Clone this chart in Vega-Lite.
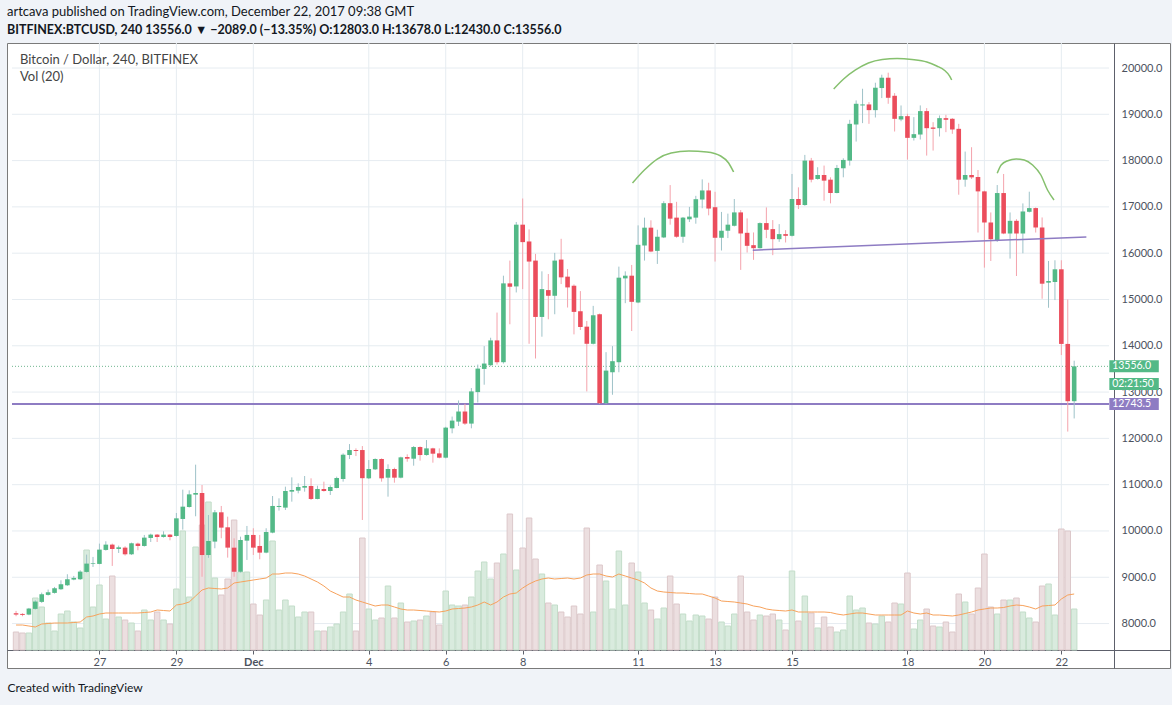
{
  "$schema": "https://vega.github.io/schema/vega-lite/v6.json",
  "width": 1163,
  "height": 625,
  "autosize": {"type": "none"},
  "padding": {"left": 7, "top": 43, "right": 2, "bottom": 37},
  "background": "#f0f3f8",
  "view": {"fill": "white", "stroke": "#7a7a7a"},
  "config": {"font": "Lato"},
  "title": {
    "text": "artcava published on TradingView.com, December 22, 2017 09:38 GMT",
    "subtitle": "BITFINEX:BTCUSD, 240 13556.0 ▼ −2089.0 (−13.35%) O:12803.0 H:13678.0 L:12430.0 C:13556.0",
    "anchor": "start",
    "frame": "group",
    "fontSize": 13,
    "fontWeight": "normal",
    "color": "#131722",
    "subtitleFontSize": 12.5,
    "subtitleFontWeight": "bold",
    "subtitleColor": "#131722",
    "subtitlePadding": 5,
    "offset": 6
  },
  "datasets": {
    "candles": [
      {"time":"2017-11-24T20:00:00Z","open":8223,"high":8273,"low":8158,"close":8194,"volume":1800,"ma":2500},
      {"time":"2017-11-25T00:00:00Z","open":8208,"high":8223,"low":8158,"close":8187,"volume":1700,"ma":2500},
      {"time":"2017-11-25T04:00:00Z","open":8194,"high":8338,"low":8180,"close":8324,"volume":1700,"ma":2400},
      {"time":"2017-11-25T08:00:00Z","open":8317,"high":8504,"low":8302,"close":8475,"volume":5200,"ma":2300},
      {"time":"2017-11-25T12:00:00Z","open":8468,"high":8669,"low":8446,"close":8633,"volume":4300,"ma":2600},
      {"time":"2017-11-25T16:00:00Z","open":8619,"high":8734,"low":8604,"close":8676,"volume":2700,"ma":2650},
      {"time":"2017-11-25T20:00:00Z","open":8662,"high":8791,"low":8647,"close":8763,"volume":1900,"ma":2700},
      {"time":"2017-11-26T00:00:00Z","open":8741,"high":8935,"low":8727,"close":8849,"volume":3600,"ma":2700},
      {"time":"2017-11-26T04:00:00Z","open":8827,"high":9065,"low":8813,"close":8957,"volume":3900,"ma":2700},
      {"time":"2017-11-26T08:00:00Z","open":8950,"high":9029,"low":8935,"close":8986,"volume":2800,"ma":2750},
      {"time":"2017-11-26T12:00:00Z","open":8957,"high":9151,"low":8942,"close":9122,"volume":2200,"ma":2800},
      {"time":"2017-11-26T16:00:00Z","open":9115,"high":9489,"low":9101,"close":9295,"volume":10000,"ma":3300},
      {"time":"2017-11-26T20:00:00Z","open":9288,"high":9439,"low":9223,"close":9302,"volume":4300,"ma":3400},
      {"time":"2017-11-27T00:00:00Z","open":9288,"high":9727,"low":9281,"close":9597,"volume":6500,"ma":3600},
      {"time":"2017-11-27T04:00:00Z","open":9590,"high":9777,"low":9575,"close":9705,"volume":3100,"ma":3700},
      {"time":"2017-11-27T08:00:00Z","open":9705,"high":9727,"low":9245,"close":9611,"volume":7400,"ma":3700},
      {"time":"2017-11-27T12:00:00Z","open":9611,"high":9683,"low":9525,"close":9647,"volume":3300,"ma":3700},
      {"time":"2017-11-27T16:00:00Z","open":9640,"high":9669,"low":9468,"close":9496,"volume":3000,"ma":3700},
      {"time":"2017-11-27T20:00:00Z","open":9496,"high":9748,"low":9482,"close":9734,"volume":2700,"ma":3700},
      {"time":"2017-11-28T00:00:00Z","open":9727,"high":9748,"low":9583,"close":9676,"volume":1900,"ma":3700},
      {"time":"2017-11-28T04:00:00Z","open":9676,"high":9914,"low":9662,"close":9856,"volume":4000,"ma":3750},
      {"time":"2017-11-28T08:00:00Z","open":9849,"high":9942,"low":9762,"close":9921,"volume":3000,"ma":3800},
      {"time":"2017-11-28T12:00:00Z","open":9921,"high":9935,"low":9762,"close":9870,"volume":3800,"ma":4000},
      {"time":"2017-11-28T16:00:00Z","open":9870,"high":9993,"low":9856,"close":9921,"volume":3000,"ma":3950},
      {"time":"2017-11-28T20:00:00Z","open":9921,"high":9935,"low":9798,"close":9870,"volume":2600,"ma":3900},
      {"time":"2017-11-29T00:00:00Z","open":9892,"high":10388,"low":9878,"close":10273,"volume":6100,"ma":4500},
      {"time":"2017-11-29T04:00:00Z","open":10259,"high":10892,"low":10029,"close":10525,"volume":11900,"ma":4600},
      {"time":"2017-11-29T08:00:00Z","open":10518,"high":10878,"low":10504,"close":10791,"volume":5300,"ma":4800},
      {"time":"2017-11-29T12:00:00Z","open":10784,"high":11432,"low":10317,"close":10820,"volume":10300,"ma":5400},
      {"time":"2017-11-29T16:00:00Z","open":10820,"high":10993,"low":9011,"close":9480,"volume":12500,"ma":6000},
      {"time":"2017-11-29T20:00:00Z","open":9480,"high":10345,"low":9420,"close":9784,"volume":14800,"ma":6200},
      {"time":"2017-11-30T00:00:00Z","open":9770,"high":10453,"low":9626,"close":10403,"volume":7200,"ma":6150},
      {"time":"2017-11-30T04:00:00Z","open":10403,"high":10540,"low":9842,"close":10072,"volume":5500,"ma":6100},
      {"time":"2017-11-30T08:00:00Z","open":10079,"high":10309,"low":9424,"close":9640,"volume":7100,"ma":6200},
      {"time":"2017-11-30T12:00:00Z","open":9639,"high":9841,"low":9011,"close":9119,"volume":13000,"ma":6700},
      {"time":"2017-11-30T16:00:00Z","open":9119,"high":9877,"low":9100,"close":9805,"volume":7800,"ma":6800},
      {"time":"2017-11-30T20:00:00Z","open":9791,"high":10108,"low":9374,"close":9914,"volume":7800,"ma":6900},
      {"time":"2017-12-01T00:00:00Z","open":9914,"high":10058,"low":9482,"close":9640,"volume":4600,"ma":7000},
      {"time":"2017-12-01T04:00:00Z","open":9676,"high":9914,"low":9388,"close":9532,"volume":3500,"ma":7100},
      {"time":"2017-12-01T08:00:00Z","open":9532,"high":10058,"low":9518,"close":9978,"volume":5000,"ma":7200},
      {"time":"2017-12-01T12:00:00Z","open":9964,"high":10755,"low":9950,"close":10540,"volume":10900,"ma":7600},
      {"time":"2017-12-01T16:00:00Z","open":10518,"high":10705,"low":10439,"close":10540,"volume":4000,"ma":7600},
      {"time":"2017-12-01T20:00:00Z","open":10504,"high":10957,"low":10453,"close":10863,"volume":5000,"ma":7700},
      {"time":"2017-12-02T00:00:00Z","open":10849,"high":11158,"low":10633,"close":10885,"volume":4400,"ma":7700},
      {"time":"2017-12-02T04:00:00Z","open":10871,"high":11029,"low":10813,"close":10950,"volume":3300,"ma":7600},
      {"time":"2017-12-02T08:00:00Z","open":10935,"high":11187,"low":10849,"close":10971,"volume":3800,"ma":7400},
      {"time":"2017-12-02T12:00:00Z","open":10971,"high":11137,"low":10669,"close":10691,"volume":3800,"ma":7100},
      {"time":"2017-12-02T16:00:00Z","open":10691,"high":10978,"low":10683,"close":10906,"volume":1900,"ma":6800},
      {"time":"2017-12-02T20:00:00Z","open":10906,"high":11065,"low":10849,"close":10863,"volume":1900,"ma":6400},
      {"time":"2017-12-03T00:00:00Z","open":10863,"high":10986,"low":10777,"close":10950,"volume":2300,"ma":5900},
      {"time":"2017-12-03T04:00:00Z","open":10928,"high":11173,"low":10921,"close":11144,"volume":2600,"ma":5600},
      {"time":"2017-12-03T08:00:00Z","open":11122,"high":11676,"low":11065,"close":11647,"volume":3800,"ma":5300},
      {"time":"2017-12-03T12:00:00Z","open":11640,"high":11877,"low":11554,"close":11748,"volume":5600,"ma":5300},
      {"time":"2017-12-03T16:00:00Z","open":11748,"high":11784,"low":11618,"close":11727,"volume":1900,"ma":5000},
      {"time":"2017-12-03T20:00:00Z","open":11748,"high":11834,"low":10237,"close":11140,"volume":11200,"ma":4800},
      {"time":"2017-12-04T00:00:00Z","open":11137,"high":11532,"low":11122,"close":11338,"volume":4100,"ma":4600},
      {"time":"2017-12-04T04:00:00Z","open":11331,"high":11568,"low":11317,"close":11554,"volume":3000,"ma":4400},
      {"time":"2017-12-04T08:00:00Z","open":11554,"high":11568,"low":11065,"close":11137,"volume":3200,"ma":4500},
      {"time":"2017-12-04T12:00:00Z","open":11151,"high":11439,"low":10741,"close":11338,"volume":6400,"ma":4500},
      {"time":"2017-12-04T16:00:00Z","open":11338,"high":11367,"low":11043,"close":11151,"volume":3200,"ma":4300},
      {"time":"2017-12-04T20:00:00Z","open":11151,"high":11604,"low":11137,"close":11590,"volume":4700,"ma":4100},
      {"time":"2017-12-05T00:00:00Z","open":11597,"high":11655,"low":11496,"close":11561,"volume":2800,"ma":4000},
      {"time":"2017-12-05T04:00:00Z","open":11561,"high":11834,"low":11410,"close":11813,"volume":2900,"ma":4000},
      {"time":"2017-12-05T08:00:00Z","open":11813,"high":11827,"low":11518,"close":11640,"volume":3000,"ma":3950},
      {"time":"2017-12-05T12:00:00Z","open":11640,"high":11964,"low":11626,"close":11784,"volume":3400,"ma":3900},
      {"time":"2017-12-05T16:00:00Z","open":11784,"high":11798,"low":11475,"close":11669,"volume":3800,"ma":3850},
      {"time":"2017-12-05T20:00:00Z","open":11676,"high":11784,"low":11568,"close":11583,"volume":2500,"ma":3800},
      {"time":"2017-12-06T00:00:00Z","open":11583,"high":12250,"low":11568,"close":12232,"volume":5900,"ma":3900},
      {"time":"2017-12-06T04:00:00Z","open":12217,"high":12471,"low":12109,"close":12384,"volume":4500,"ma":4100},
      {"time":"2017-12-06T08:00:00Z","open":12362,"high":12819,"low":12268,"close":12580,"volume":4400,"ma":4150},
      {"time":"2017-12-06T12:00:00Z","open":12580,"high":12746,"low":12290,"close":12319,"volume":4500,"ma":4200},
      {"time":"2017-12-06T16:00:00Z","open":12319,"high":13087,"low":12217,"close":13014,"volume":5300,"ma":4300},
      {"time":"2017-12-06T20:00:00Z","open":13000,"high":13594,"low":12775,"close":13507,"volume":7900,"ma":4500},
      {"time":"2017-12-07T00:00:00Z","open":13500,"high":13993,"low":13159,"close":13616,"volume":8800,"ma":4800},
      {"time":"2017-12-07T04:00:00Z","open":13580,"high":14174,"low":13558,"close":14116,"volume":7100,"ma":4500},
      {"time":"2017-12-07T08:00:00Z","open":14116,"high":14717,"low":13594,"close":13645,"volume":8700,"ma":4800},
      {"time":"2017-12-07T12:00:00Z","open":13645,"high":15514,"low":13616,"close":15348,"volume":9600,"ma":5300},
      {"time":"2017-12-07T16:00:00Z","open":15348,"high":15840,"low":14464,"close":15275,"volume":13600,"ma":5600},
      {"time":"2017-12-07T20:00:00Z","open":15282,"high":16674,"low":15152,"close":16616,"volume":8000,"ma":5700},
      {"time":"2017-12-08T00:00:00Z","open":16616,"high":17181,"low":15224,"close":16239,"volume":10200,"ma":6200},
      {"time":"2017-12-08T04:00:00Z","open":16253,"high":16514,"low":14043,"close":15819,"volume":13200,"ma":6600},
      {"time":"2017-12-08T08:00:00Z","open":15840,"high":15985,"low":13725,"close":14623,"volume":9100,"ma":6900},
      {"time":"2017-12-08T12:00:00Z","open":14623,"high":15608,"low":14196,"close":15224,"volume":7600,"ma":7100},
      {"time":"2017-12-08T16:00:00Z","open":15203,"high":15550,"low":14572,"close":15080,"volume":4700,"ma":7200},
      {"time":"2017-12-08T20:00:00Z","open":15080,"high":16007,"low":14681,"close":15840,"volume":4500,"ma":7100},
      {"time":"2017-12-09T00:00:00Z","open":15862,"high":16311,"low":15333,"close":15478,"volume":3800,"ma":7150},
      {"time":"2017-12-09T04:00:00Z","open":15493,"high":15659,"low":14826,"close":15261,"volume":3300,"ma":7200},
      {"time":"2017-12-09T08:00:00Z","open":15297,"high":15326,"low":14246,"close":14732,"volume":4400,"ma":7100},
      {"time":"2017-12-09T12:00:00Z","open":14746,"high":15181,"low":14341,"close":14406,"volume":3600,"ma":7200},
      {"time":"2017-12-09T16:00:00Z","open":14413,"high":14536,"low":13014,"close":14043,"volume":12200,"ma":7500},
      {"time":"2017-12-09T20:00:00Z","open":14043,"high":14862,"low":14029,"close":14659,"volume":3800,"ma":7600},
      {"time":"2017-12-10T00:00:00Z","open":14681,"high":14696,"low":12743,"close":12760,"volume":8500,"ma":7600},
      {"time":"2017-12-10T04:00:00Z","open":12760,"high":13862,"low":12744,"close":13464,"volume":6900,"ma":7400},
      {"time":"2017-12-10T08:00:00Z","open":13428,"high":13993,"low":12942,"close":13667,"volume":4100,"ma":7300},
      {"time":"2017-12-10T12:00:00Z","open":13645,"high":15710,"low":13428,"close":15471,"volume":9900,"ma":7600},
      {"time":"2017-12-10T16:00:00Z","open":15456,"high":15608,"low":14920,"close":15514,"volume":4500,"ma":7400},
      {"time":"2017-12-10T20:00:00Z","open":15514,"high":15746,"low":14319,"close":14949,"volume":8700,"ma":7200},
      {"time":"2017-12-11T00:00:00Z","open":14935,"high":16601,"low":14920,"close":16181,"volume":7800,"ma":7000},
      {"time":"2017-12-11T04:00:00Z","open":16166,"high":16768,"low":15840,"close":16551,"volume":4700,"ma":6700},
      {"time":"2017-12-11T08:00:00Z","open":16551,"high":16710,"low":16021,"close":16036,"volume":4000,"ma":6200},
      {"time":"2017-12-11T12:00:00Z","open":16050,"high":16507,"low":15768,"close":16355,"volume":3100,"ma":5900},
      {"time":"2017-12-11T16:00:00Z","open":16340,"high":17123,"low":16326,"close":17080,"volume":4200,"ma":5800},
      {"time":"2017-12-11T20:00:00Z","open":17080,"high":17471,"low":16616,"close":16746,"volume":7400,"ma":5750},
      {"time":"2017-12-12T00:00:00Z","open":16768,"high":17109,"low":16333,"close":16355,"volume":4600,"ma":5700},
      {"time":"2017-12-12T04:00:00Z","open":16355,"high":16782,"low":16224,"close":16768,"volume":3600,"ma":5700},
      {"time":"2017-12-12T08:00:00Z","open":16732,"high":16999,"low":16673,"close":16790,"volume":2900,"ma":5650},
      {"time":"2017-12-12T12:00:00Z","open":16768,"high":17239,"low":16637,"close":17166,"volume":3500,"ma":5600},
      {"time":"2017-12-12T16:00:00Z","open":17159,"high":17594,"low":16970,"close":17355,"volume":3400,"ma":5600},
      {"time":"2017-12-12T20:00:00Z","open":17355,"high":17522,"low":16818,"close":16964,"volume":3100,"ma":5400},
      {"time":"2017-12-13T00:00:00Z","open":16993,"high":17326,"low":15819,"close":16333,"volume":5300,"ma":5200},
      {"time":"2017-12-13T04:00:00Z","open":16333,"high":16891,"low":16058,"close":16485,"volume":2800,"ma":4900},
      {"time":"2017-12-13T08:00:00Z","open":16485,"high":16855,"low":16326,"close":16616,"volume":2400,"ma":4850},
      {"time":"2017-12-13T12:00:00Z","open":16592,"high":17170,"low":16578,"close":16881,"volume":3600,"ma":4800},
      {"time":"2017-12-13T16:00:00Z","open":16881,"high":16931,"low":15639,"close":16426,"volume":7400,"ma":4700},
      {"time":"2017-12-13T20:00:00Z","open":16440,"high":16751,"low":16014,"close":16159,"volume":3800,"ma":4600},
      {"time":"2017-12-14T00:00:00Z","open":16173,"high":16448,"low":15856,"close":16108,"volume":3000,"ma":4400},
      {"time":"2017-12-14T04:00:00Z","open":16108,"high":16664,"low":16101,"close":16650,"volume":3500,"ma":4300},
      {"time":"2017-12-14T08:00:00Z","open":16650,"high":16989,"low":16325,"close":16505,"volume":3400,"ma":4100},
      {"time":"2017-12-14T12:00:00Z","open":16520,"high":16715,"low":15957,"close":16303,"volume":3600,"ma":4000},
      {"time":"2017-12-14T16:00:00Z","open":16303,"high":16628,"low":16245,"close":16412,"volume":3000,"ma":3950},
      {"time":"2017-12-14T20:00:00Z","open":16412,"high":16498,"low":16231,"close":16375,"volume":2000,"ma":3900},
      {"time":"2017-12-15T00:00:00Z","open":16375,"high":17711,"low":16361,"close":17170,"volume":7900,"ma":4000},
      {"time":"2017-12-15T04:00:00Z","open":17170,"high":17422,"low":16953,"close":17040,"volume":2900,"ma":3800},
      {"time":"2017-12-15T08:00:00Z","open":17040,"high":18123,"low":17025,"close":18000,"volume":5400,"ma":3800},
      {"time":"2017-12-15T12:00:00Z","open":18000,"high":18058,"low":17530,"close":17588,"volume":3700,"ma":3800},
      {"time":"2017-12-15T16:00:00Z","open":17603,"high":17856,"low":17588,"close":17689,"volume":2200,"ma":3800},
      {"time":"2017-12-15T20:00:00Z","open":17689,"high":17892,"low":17134,"close":17567,"volume":3300,"ma":3800},
      {"time":"2017-12-16T00:00:00Z","open":17588,"high":17639,"low":17076,"close":17300,"volume":2300,"ma":3750},
      {"time":"2017-12-16T04:00:00Z","open":17300,"high":17906,"low":17292,"close":17841,"volume":1800,"ma":3600},
      {"time":"2017-12-16T08:00:00Z","open":17834,"high":18050,"low":17639,"close":18014,"volume":2000,"ma":3500},
      {"time":"2017-12-16T12:00:00Z","open":18000,"high":18881,"low":17892,"close":18794,"volume":5400,"ma":3600},
      {"time":"2017-12-16T16:00:00Z","open":18780,"high":19300,"low":18411,"close":19227,"volume":4000,"ma":3700},
      {"time":"2017-12-16T20:00:00Z","open":19191,"high":19552,"low":18809,"close":19213,"volume":4200,"ma":3700},
      {"time":"2017-12-17T00:00:00Z","open":19213,"high":19263,"low":18794,"close":19090,"volume":2700,"ma":3600},
      {"time":"2017-12-17T04:00:00Z","open":19090,"high":19682,"low":18931,"close":19574,"volume":2600,"ma":3500},
      {"time":"2017-12-17T08:00:00Z","open":19567,"high":19855,"low":19350,"close":19790,"volume":3400,"ma":3500},
      {"time":"2017-12-17T12:00:00Z","open":19790,"high":19899,"low":19227,"close":19357,"volume":2800,"ma":3500},
      {"time":"2017-12-17T16:00:00Z","open":19400,"high":19458,"low":18628,"close":18902,"volume":4700,"ma":3500},
      {"time":"2017-12-17T20:00:00Z","open":18888,"high":19191,"low":18850,"close":18960,"volume":4600,"ma":3500},
      {"time":"2017-12-18T00:00:00Z","open":18960,"high":19011,"low":18022,"close":18491,"volume":7700,"ma":3900},
      {"time":"2017-12-18T04:00:00Z","open":18491,"high":18939,"low":18433,"close":18571,"volume":2100,"ma":3700},
      {"time":"2017-12-18T08:00:00Z","open":18563,"high":19192,"low":18455,"close":19069,"volume":3000,"ma":3600},
      {"time":"2017-12-18T12:00:00Z","open":19069,"high":19134,"low":18108,"close":18700,"volume":4100,"ma":3700},
      {"time":"2017-12-18T16:00:00Z","open":18715,"high":18830,"low":18216,"close":18686,"volume":2400,"ma":3500},
      {"time":"2017-12-18T20:00:00Z","open":18700,"high":18975,"low":18520,"close":18917,"volume":2300,"ma":3500},
      {"time":"2017-12-19T00:00:00Z","open":18917,"high":18989,"low":18614,"close":18881,"volume":2800,"ma":3450},
      {"time":"2017-12-19T04:00:00Z","open":18903,"high":18917,"low":18578,"close":18672,"volume":1800,"ma":3400},
      {"time":"2017-12-19T08:00:00Z","open":18686,"high":18794,"low":17263,"close":17588,"volume":5600,"ma":3500},
      {"time":"2017-12-19T12:00:00Z","open":17588,"high":18195,"low":17436,"close":17689,"volume":4800,"ma":3650},
      {"time":"2017-12-19T16:00:00Z","open":17689,"high":18289,"low":17602,"close":17638,"volume":3600,"ma":3800},
      {"time":"2017-12-19T20:00:00Z","open":17646,"high":17797,"low":16446,"close":17335,"volume":6200,"ma":4000},
      {"time":"2017-12-20T00:00:00Z","open":17335,"high":17350,"low":15688,"close":16663,"volume":9600,"ma":4100},
      {"time":"2017-12-20T04:00:00Z","open":16663,"high":16880,"low":15832,"close":16302,"volume":4300,"ma":4200},
      {"time":"2017-12-20T08:00:00Z","open":16266,"high":17472,"low":16244,"close":17299,"volume":3600,"ma":4200},
      {"time":"2017-12-20T12:00:00Z","open":17299,"high":17711,"low":16410,"close":16425,"volume":5000,"ma":4250},
      {"time":"2017-12-20T16:00:00Z","open":16425,"high":16880,"low":15883,"close":16699,"volume":5000,"ma":4400},
      {"time":"2017-12-20T20:00:00Z","open":16699,"high":16735,"low":15507,"close":16425,"volume":5200,"ma":4500},
      {"time":"2017-12-21T00:00:00Z","open":16425,"high":17075,"low":15998,"close":16901,"volume":3800,"ma":4450},
      {"time":"2017-12-21T04:00:00Z","open":16894,"high":17328,"low":16880,"close":16974,"volume":3200,"ma":4300},
      {"time":"2017-12-21T08:00:00Z","open":16974,"high":16988,"low":16446,"close":16555,"volume":2800,"ma":4100},
      {"time":"2017-12-21T12:00:00Z","open":16555,"high":16772,"low":15016,"close":15341,"volume":6400,"ma":4400},
      {"time":"2017-12-21T16:00:00Z","open":15363,"high":15832,"low":14821,"close":15399,"volume":6600,"ma":4450},
      {"time":"2017-12-21T20:00:00Z","open":15377,"high":15847,"low":14987,"close":15652,"volume":3500,"ma":4500},
      {"time":"2017-12-22T00:00:00Z","open":15652,"high":15847,"low":13800,"close":14040,"volume":12100,"ma":5100},
      {"time":"2017-12-22T04:00:00Z","open":14040,"high":15000,"low":12147,"close":12803,"volume":11900,"ma":5500},
      {"time":"2017-12-22T08:00:00Z","open":12803,"high":13678,"low":12430,"close":13556,"volume":4100,"ma":5600}
    ],
    "hgrid": [
      {"price":8000,"start":"2017-11-24T17:28:00Z","end":"2017-12-23T05:46:00Z"},
      {"price":9000,"start":"2017-11-24T17:28:00Z","end":"2017-12-23T05:46:00Z"},
      {"price":10000,"start":"2017-11-24T17:28:00Z","end":"2017-12-23T05:46:00Z"},
      {"price":11000,"start":"2017-11-24T17:28:00Z","end":"2017-12-23T05:46:00Z"},
      {"price":12000,"start":"2017-11-24T17:28:00Z","end":"2017-12-23T05:46:00Z"},
      {"price":13000,"start":"2017-11-24T17:28:00Z","end":"2017-12-23T05:46:00Z"},
      {"price":14000,"start":"2017-11-24T17:28:00Z","end":"2017-12-23T05:46:00Z"},
      {"price":15000,"start":"2017-11-24T17:28:00Z","end":"2017-12-23T05:46:00Z"},
      {"price":16000,"start":"2017-11-24T17:28:00Z","end":"2017-12-23T05:46:00Z"},
      {"price":17000,"start":"2017-11-24T17:28:00Z","end":"2017-12-23T05:46:00Z"},
      {"price":18000,"start":"2017-11-24T17:28:00Z","end":"2017-12-23T05:46:00Z"},
      {"price":19000,"start":"2017-11-24T17:28:00Z","end":"2017-12-23T05:46:00Z"},
      {"price":20000,"start":"2017-11-24T17:28:00Z","end":"2017-12-23T05:46:00Z"}
    ],
    "vgrid": [{"time":"2017-11-27T00:00:00Z"},{"time":"2017-11-29T00:00:00Z"},{"time":"2017-12-01T00:00:00Z"},{"time":"2017-12-04T00:00:00Z"},{"time":"2017-12-06T00:00:00Z"},{"time":"2017-12-08T00:00:00Z"},{"time":"2017-12-11T00:00:00Z"},{"time":"2017-12-13T00:00:00Z"},{"time":"2017-12-15T00:00:00Z"},{"time":"2017-12-18T00:00:00Z"},{"time":"2017-12-20T00:00:00Z"},{"time":"2017-12-22T00:00:00Z"}],
    "levels": [
      {"kind":"support","price":12743.5,"start":"2017-11-24T17:28:00Z","end":"2017-12-23T05:46:00Z"},
      {"kind":"last","price":13556,"start":"2017-11-24T17:28:00Z","end":"2017-12-23T05:46:00Z"}
    ],
    "trend": [{"time":"2017-12-13T23:31:00Z","price":16065},{"time":"2017-12-22T15:36:00Z","price":16352}],
    "arcs": [
      {"arc":"left","time":"2017-12-10T20:30:00Z","price":17516},
      {"arc":"left","time":"2017-12-11T03:55:00Z","price":17797},
      {"arc":"left","time":"2017-12-11T11:57:00Z","price":18034},
      {"arc":"left","time":"2017-12-11T20:36:00Z","price":18164},
      {"arc":"left","time":"2017-12-12T07:44:00Z","price":18207},
      {"arc":"left","time":"2017-12-12T18:52:00Z","price":18186},
      {"arc":"left","time":"2017-12-13T03:30:00Z","price":18099},
      {"arc":"left","time":"2017-12-13T08:27:00Z","price":17948},
      {"arc":"left","time":"2017-12-13T11:33:00Z","price":17754},
      {"arc":"head","time":"2017-12-16T02:00:00Z","price":19546},
      {"arc":"head","time":"2017-12-16T08:11:00Z","price":19762},
      {"arc":"head","time":"2017-12-16T15:36:00Z","price":19957},
      {"arc":"head","time":"2017-12-16T23:38:00Z","price":20108},
      {"arc":"head","time":"2017-12-17T08:18:00Z","price":20184},
      {"arc":"head","time":"2017-12-17T17:34:00Z","price":20205},
      {"arc":"head","time":"2017-12-18T02:50:00Z","price":20184},
      {"arc":"head","time":"2017-12-18T12:07:00Z","price":20130},
      {"arc":"head","time":"2017-12-18T18:17:00Z","price":20043},
      {"arc":"head","time":"2017-12-18T23:14:00Z","price":19946},
      {"arc":"head","time":"2017-12-19T02:20:00Z","price":19827},
      {"arc":"head","time":"2017-12-19T03:35:00Z","price":19741},
      {"arc":"right","time":"2017-12-20T08:00:00Z","price":17726},
      {"arc":"right","time":"2017-12-20T10:28:00Z","price":17905},
      {"arc":"right","time":"2017-12-20T14:37:00Z","price":17998},
      {"arc":"right","time":"2017-12-20T19:45:00Z","price":18034},
      {"arc":"right","time":"2017-12-21T00:53:00Z","price":18013},
      {"arc":"right","time":"2017-12-21T06:04:00Z","price":17905},
      {"arc":"right","time":"2017-12-21T11:13:00Z","price":17689},
      {"arc":"right","time":"2017-12-21T15:22:00Z","price":17365},
      {"arc":"right","time":"2017-12-21T19:25:00Z","price":17149}
    ],
    "tags": [
      {"kind":"last","label":"13556.0","price":13556,"low":13426,"high":13686,"start":"2017-12-23T05:56:00Z","end":"2017-12-24T12:47:00Z","at":"2017-12-23T07:42:00Z"},
      {"kind":"timer","label":"02:21:50","price":13175,"low":13045,"high":13304,"start":"2017-12-23T05:56:00Z","end":"2017-12-24T12:47:00Z","at":"2017-12-23T07:42:00Z"},
      {"kind":"support","label":"12743.5","price":12743.5,"low":12613,"high":12872,"start":"2017-12-23T05:56:00Z","end":"2017-12-24T12:47:00Z","at":"2017-12-23T07:42:00Z"}
    ],
    "notes": [
      {"text":"Bitcoin / Dollar, 240, BITFINEX","price":20173,"at":"2017-11-24T22:25:00Z"},
      {"text":"Vol (20)","price":19806,"at":"2017-11-24T22:25:00Z"}
    ]
  },
  "data": {"name": "candles"},
  "encoding": {
    "x": {
      "field": "time",
      "type": "temporal",
      "title": "Created with      TradingView",
      "scale": {
        "type": "utc",
        "domain": [1511544480000, 1514133540000]
      },
      "axis": {
        "values": [1511740800000, 1511913600000, 1512086400000, 1512345600000, 1512518400000, 1512691200000, 1512950400000, 1513123200000, 1513296000000, 1513555200000, 1513728000000, 1513900800000],
        "labelExpr": "utcdate(datum.value) == 1 ? 'Dec' : '' + utcdate(datum.value)",
        "labelFontWeight": {"condition": {"test": "utcdate(datum.value) == 1", "value": "bold"}, "value": "normal"},
        "grid": false,
        "offset": -18,
        "tickSize": 4,
        "tickColor": "#5d606b",
        "domainColor": "#5d606b",
        "labelColor": "#4c525e",
        "labelFontSize": 11,
        "labelPadding": 2,
        "labelFlush": false,
        "labelOverlap": false,
        "titleAnchor": "start",
        "titleX": 0,
        "titleY": 37,
        "titleBaseline": "middle",
        "titleAlign": "left",
        "titleFontSize": 12,
        "titleFontWeight": "normal",
        "titleColor": "#131722"
      }
    }
  },
  "resolve": {"scale": {"y": "independent"}},
  "layer": [
    {
      "layer": [
        {
          "data": {"name": "hgrid"},
          "mark": {"type": "rule", "color": "#e6ecf1", "strokeWidth": 1},
          "encoding": {
            "y": {
              "field": "price",
              "type": "quantitative",
              "scale": {"domain": [7040, 20540], "nice": false, "zero": false},
              "axis": {
                "orient": "right",
                "offset": -56,
                "values": [8000,9000,10000,11000,12000,13000,14000,15000,16000,17000,18000,19000,20000],
                "format": ".1f",
                "grid": false,
                "ticks": false,
                "tickSize": 0,
                "labelPadding": 7,
                "labelAlign": "left",
                "labelBaseline": "middle",
                "labelColor": "#4c525e",
                "labelFontSize": 11,
                "labelFlush": false,
                "labelOverlap": false,
                "domainColor": "#5d606b",
                "title": null
              }
            },
            "x": {"field": "start", "type": "temporal"},
            "x2": {"field": "end"}
          }
        },
        {
          "data": {"name": "vgrid"},
          "mark": {"type": "rule", "color": "#e6ecf1", "strokeWidth": 1},
          "encoding": {
            "y": {"datum": 7429, "type": "quantitative"},
            "y2": {"datum": 20540}
          }
        }
      ]
    },
    {
      "layer": [
        {
          "mark": {"type": "bar", "width": 5.5, "strokeWidth": 1},
          "encoding": {
            "y": {"field": "volume", "type": "quantitative", "scale": {"domain": [-1800, 60700], "nice": false, "zero": false}, "axis": null},
            "y2": {"datum": 0},
            "fill": {"condition": {"test": "datum.close >= datum.open", "value": "#d9ebde"}, "value": "#ecdfe0"},
            "stroke": {"condition": {"test": "datum.close >= datum.open", "value": "#c3ddc9"}, "value": "#dcc8ca"}
          }
        },
        {
          "mark": {"type": "line", "color": "#f7a25c", "strokeWidth": 1},
          "encoding": {
            "y": {"field": "ma", "type": "quantitative", "axis": null}
          }
        }
      ]
    },
    {
      "layer": [
        {
          "data": {"name": "levels"},
          "mark": {"type": "rule"},
          "encoding": {
            "y": {"field": "price", "type": "quantitative", "scale": {"domain": [7040, 20540], "nice": false, "zero": false}, "axis": null},
            "x": {"field": "start", "type": "temporal"},
            "x2": {"field": "end"},
            "color": {"field": "kind", "type": "nominal", "scale": {"domain": ["support", "last"], "range": ["#8e7cc3", "#6fb58f"]}, "legend": null},
            "strokeWidth": {"field": "kind", "type": "nominal", "scale": {"domain": ["support", "last"], "range": [2, 1]}, "legend": null},
            "strokeDash": {"field": "kind", "type": "nominal", "scale": {"domain": ["support", "last"], "range": [[1, 0], [1, 2]]}, "legend": null}
          }
        },
        {
          "mark": {"type": "rule", "strokeWidth": 1},
          "encoding": {
            "y": {"field": "low", "type": "quantitative", "axis": null},
            "y2": {"field": "high"},
            "color": {"condition": {"test": "datum.close >= datum.open", "value": "#9ec2c8"}, "value": "#f4a3ac"}
          }
        },
        {
          "mark": {"type": "bar", "width": 4.6},
          "encoding": {
            "y": {"field": "open", "type": "quantitative", "axis": null},
            "y2": {"field": "close"},
            "color": {"condition": {"test": "datum.close >= datum.open", "value": "#53b987"}, "value": "#eb4d5c"}
          }
        },
        {
          "data": {"name": "trend"},
          "mark": {"type": "line", "color": "#8e7cc3", "strokeWidth": 1.5},
          "encoding": {
            "y": {"field": "price", "type": "quantitative", "axis": null}
          }
        },
        {
          "data": {"name": "arcs"},
          "mark": {"type": "line", "color": "#86c06e", "strokeWidth": 1.5, "interpolate": "monotone"},
          "encoding": {
            "y": {"field": "price", "type": "quantitative", "axis": null},
            "detail": {"field": "arc"}
          }
        },
        {
          "data": {"name": "tags"},
          "mark": {"type": "rect"},
          "encoding": {
            "x": {"field": "start", "type": "temporal"},
            "x2": {"field": "end"},
            "y": {"field": "low", "type": "quantitative", "axis": null},
            "y2": {"field": "high"},
            "fill": {"field": "kind", "type": "nominal", "scale": {"domain": ["last", "timer", "support"], "range": ["#53b987", "#53b987", "#8e7cc3"]}, "legend": null}
          }
        },
        {
          "data": {"name": "tags"},
          "mark": {"type": "text", "align": "left", "baseline": "middle", "color": "white", "fontSize": 10.5},
          "encoding": {
            "x": {"field": "at", "type": "temporal"},
            "y": {"field": "price", "type": "quantitative", "axis": null},
            "text": {"field": "label"}
          }
        },
        {
          "data": {"name": "notes"},
          "mark": {"type": "text", "align": "left", "baseline": "middle", "color": "#444444", "fontSize": 13},
          "encoding": {
            "x": {"field": "at", "type": "temporal"},
            "y": {"field": "price", "type": "quantitative", "axis": null},
            "text": {"field": "text"}
          }
        }
      ]
    }
  ]
}
